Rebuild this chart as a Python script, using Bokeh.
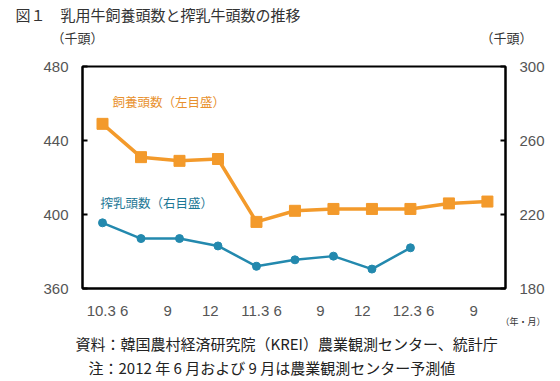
from bokeh.plotting import figure
from bokeh.models import Range1d, LinearAxis, FixedTicker, Title
from bokeh.core.properties import value
from bokeh.embed import file_html
from bokeh.resources import INLINE

# ---- data ----
categories = ["10.3", "10.6", "10.9", "10.12", "11.3", "11.6",
              "11.9", "11.12", "12.3", "12.6", "12.9"]
herd = [449, 431, 429, 430, 396, 402, 403, 403, 403, 406, 407]          # 飼養頭数 (千頭, 左目盛)
milking = [215.5, 207, 207, 203, 192, 195.5, 197.5, 190.5, 202]         # 搾乳頭数 (千頭, 右目盛)
left_ticks = [360, 400, 440, 480]
right_ticks = [180, 220, 260, 300]
x_tick_labels = ["10.3 6", "9", "12", "11.3 6", "9", "12", "12.3 6", "9"]

# ---- layout constants ----
x_tick_pos = [0.13, 1.69, 2.8, 4.13, 5.66, 6.75, 8.08, 9.64]
W, H = 552, 380
FL, FT, FR, FB = 82, 66, 505, 288   # frame edges in page pixels
ORANGE = "#F39A2B"
BLUE = "#2389AE"
CJK = "Noto Sans CJK JP"
NUM = "Liberation Sans"

idx = list(range(len(categories)))
idx_m = idx[:len(milking)]

p = figure(width=W, height=H, output_backend="svg", toolbar_location=None,
           x_range=Range1d(-0.52, 10.47), y_range=Range1d(360, 480),
           min_border_left=FL, min_border_right=W - FR, min_border_top=FT,
           min_border_bottom=H - FB)
p.extra_y_ranges = {"right": Range1d(180, 300)}
p.xgrid.visible = False
p.ygrid.visible = False
p.outline_line_color = "black"
p.outline_line_width = 2
p.background_fill_color = "white"
p.border_fill_color = "white"


def style_axis(ax):
    ax.axis_line_color = "black"
    ax.axis_line_width = 2
    ax.major_tick_in = 5
    ax.major_tick_out = 0
    ax.major_tick_line_width = 2
    ax.minor_tick_line_color = None
    ax.major_label_text_font = NUM
    ax.major_label_text_font_size = "15px"
    ax.major_label_text_color = "#555555"


yl = p.yaxis[0]
yl.ticker = FixedTicker(ticks=left_ticks)
style_axis(yl)
yl.major_label_standoff = 14

yr = LinearAxis(y_range_name="right", ticker=FixedTicker(ticks=right_ticks))
style_axis(yr)
yr.major_label_standoff = 14
p.add_layout(yr, "right")

xa = p.xaxis[0]
xa.ticker = FixedTicker(ticks=x_tick_pos)
xa.major_label_overrides = {pos: lab for pos, lab in zip(x_tick_pos, x_tick_labels)}
style_axis(xa)
xa.major_tick_line_color = None
xa.major_label_standoff = 13

p.line(idx, herd, color=ORANGE, line_width=3.5)
p.scatter(idx, herd, marker="square", size=11, color=ORANGE)
p.line(idx_m, milking, y_range_name="right", color=BLUE, line_width=2.5)
p.scatter(idx_m, milking, y_range_name="right", marker="circle", size=8, color=BLUE)

# series captions inside the plot frame (data coordinates)
p.text(x=[0.26], y=[461], text=["飼養頭数（左目盛）"], text_font=value(CJK),
       text_font_size="12.5px", text_color="#E8912E", text_baseline="middle")
p.text(x=[-0.05], y=[406.5], text=["搾乳頭数（右目盛）"], text_font=value(CJK),
       text_font_size="12.5px", text_color="#1E7896", text_baseline="middle")


# ---- header / footer texts as titles in the side panels (stacked from the frame outward) ----
def title(text, x, size, standoff, place, color="#333333", valign="bottom"):
    t = Title(text=text, align="left", offset=x - FL, standoff=standoff,
              text_font=CJK, text_font_size=size, text_color=color,
              text_font_style="normal", vertical_align=valign)
    p.add_layout(t, place)


def spacer(standoff, place):
    p.add_layout(Title(text="\u3000", text_font_size="1px", standoff=standoff,
                       text_color="white"), place)


SP = "\u3000" * 30
spacer(15, "above")
title("（千頭）" + SP + "（千頭）", 51, "13px", 4, "above")
title("図１\u3000乳用牛飼養頭数と搾乳牛頭数の推移", 15, "15px", -3, "above")

title("（年・月）", 500, "9px", -14, "below", valign="top")
spacer(5, "below")
title("資料：韓国農村経済研究院（KREI）農業観測センター、統計庁", 75, "15px", 5, "below",
      color="#222222", valign="top")
title("注：2012 年 6 月および 9 月は農業観測センター予測値", 88, "15px", -3, "below",
      color="#222222", valign="top")

open("out.html", "w").write(file_html(p, INLINE))
